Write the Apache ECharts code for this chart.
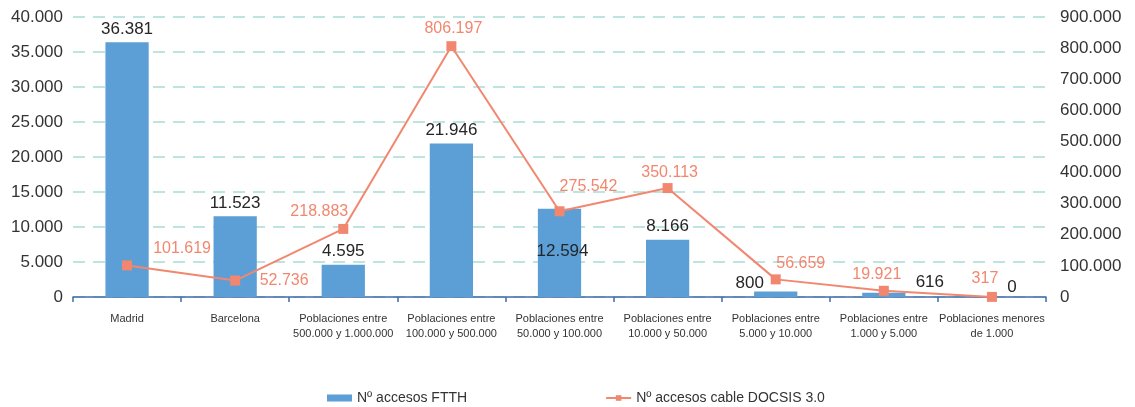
<!DOCTYPE html>
<html>
<head>
<meta charset="utf-8">
<script src="https://cdn.jsdelivr.net/npm/echarts@6/dist/echarts.min.js"></script>
<style>
html,body{margin:0;padding:0;background:#fff;}
#c{width:1135px;height:407px;}
</style>
</head>
<body>
<div id="c"></div>
<script>
const categories = [
  "Madrid",
  "Barcelona",
  "Poblaciones entre\n500.000 y 1.000.000",
  "Poblaciones entre\n100.000 y 500.000",
  "Poblaciones entre\n50.000 y 100.000",
  "Poblaciones entre\n10.000 y 50.000",
  "Poblaciones entre\n5.000 y 10.000",
  "Poblaciones entre\n1.000 y 5.000",
  "Poblaciones menores\nde 1.000"
];
const ftth = [36381, 11523, 4595, 21946, 12594, 8166, 800, 616, 0];
const docsis = [101619, 52736, 218883, 806197, 275542, 350113, 56659, 19921, 317];
const seriesNames = ["Nº accesos FTTH", "Nº accesos cable DOCSIS 3.0"];

// label placement tweaks (pixel offsets), mirroring the reference
const barLabelOffsets = [[0,0],[0,0],[0,0],[0,0],[3,56],[0,0],[-26,5],[46,3],[20,4]];
const lineLabelOffsets = [[55,-17],[49,0],[-24,-17],[2,-18],[29,-25],[2,-15],[25,-16],[-7,-16],[-7,-18]];

function fmt(v){
  return String(Math.round(v)).replace(/\B(?=(\d{3})+(?!\d))/g, ".");
}

const FONT = "Liberation Sans";
const BLUE = "#5B9FD6";
const SALMON = "#F2876F";

const chart = echarts.init(document.getElementById('c'), null, {renderer:'canvas'});
chart.setOption({
  animation:false,
  backgroundColor:'#fff',
  textStyle:{fontFamily:FONT},
  grid:{left:73, right:89, top:17, bottom:110, containLabel:false},
  legend:{
    left:322, top:386, itemGap:138,
    itemWidth:25, itemHeight:7,
    textStyle:{fontFamily:FONT, fontSize:14, color:'#333'},
    data:[
      {name:seriesNames[0], icon:'rect'},
      {name:seriesNames[1]}
    ]
  },
  xAxis:{
    type:'category', data:categories,
    boundaryGap:true,
    axisLine:{lineStyle:{color:'#3F6BAA', width:1.5}},
    axisTick:{show:true, length:5, lineStyle:{color:'#3F6BAA', width:1.5}},
    axisLabel:{interval:0, fontFamily:FONT, fontSize:11, color:'#333', lineHeight:15, margin:14}
  },
  yAxis:[
    {
      type:'value', min:0, max:40000, interval:5000,
      axisLine:{show:false}, axisTick:{show:false},
      axisLabel:{formatter:fmt, fontFamily:FONT, fontSize:17, color:'#333', margin:10},
      splitLine:{show:true, lineStyle:{color:'#A9DCD6', type:[12,8], width:1.5}}
    },
    {
      type:'value', min:0, max:900000, interval:100000, position:'right',
      axisLine:{show:false}, axisTick:{show:false},
      axisLabel:{formatter:fmt, fontFamily:FONT, fontSize:17, color:'#333', margin:14},
      splitLine:{show:false}
    }
  ],
  series:[
    {
      name:seriesNames[0], type:'bar', yAxisIndex:0,
      barWidth:'40%',
      itemStyle:{color:BLUE},
      data:ftth.map((v,i)=>({
        value:v,
        label:{show:true, position:'top', offset:barLabelOffsets[i]}
      })),
      label:{show:true, position:'top', distance:5, formatter:p=>fmt(p.value),
        fontFamily:FONT, fontSize:17, color:'#262626'},
      z:2
    },
    {
      name:seriesNames[1], type:'line', yAxisIndex:1,
      symbol:'rect', symbolSize:10,
      lineStyle:{color:SALMON, width:2},
      itemStyle:{color:SALMON},
      data:docsis.map((v,i)=>({
        value:v,
        label:{show:true, position:'inside', offset:lineLabelOffsets[i]}
      })),
      label:{show:true, position:'inside', formatter:p=>fmt(p.value),
        fontFamily:FONT, fontSize:16, color:'#F2876F'},
      z:3
    }
  ]
});
</script>
</body>
</html>
